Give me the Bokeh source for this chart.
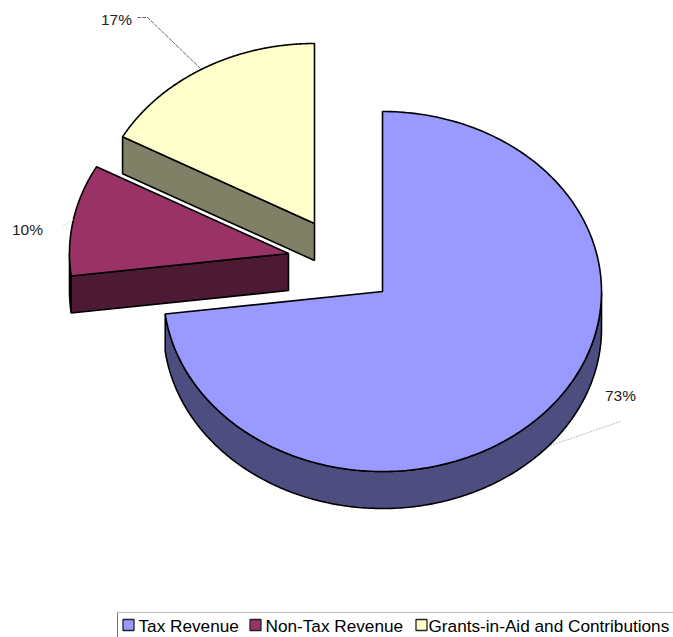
import numpy as np
from bokeh.plotting import figure
from bokeh.core.properties import value
from bokeh.embed import file_html
from bokeh.resources import INLINE

categories = ["Tax Revenue", "Non-Tax Revenue", "Grants-in-Aid and Contributions"]
shares = [73, 10, 17]
top_colors = ["#9999FF", "#993366", "#FFFFCC"]
side_colors = ["#4D4D80", "#4D1A33", "#808066"]
apex_x = [382, 288, 314]
apex_y = [291, 253, 223]
RX, RY, DEPTH = 219, 180, 37

W, H = 673, 637
p = figure(width=W, height=H, x_range=(0, W), y_range=(H, 0), output_backend="svg",
           toolbar_location=None, min_border=0, outline_line_color=None, background_fill_color="white")
p.xaxis.visible = False
p.yaxis.visible = False
p.grid.visible = False


def rim(cx, cy, a0, a1, n=240):
    t = np.radians(np.linspace(a0, a1, n))
    return cx + RX * np.sin(t), cy - RY * np.cos(t)


edges = np.cumsum([0] + shares) / sum(shares) * 360
for i in [2, 1, 0]:
    a0, a1 = edges[i], edges[i + 1]
    cx, cy = apex_x[i], apex_y[i]
    # extruded side: lower part of the rim (90..270 degrees) visible
    lo, hi = max(a0, 90), min(a1, 270)
    if hi > lo:
        x, y = rim(cx, cy, lo, hi)
        p.patch(np.r_[x, x[::-1]], np.r_[y, y[::-1] + DEPTH], fill_color=side_colors[i],
                line_color="black", line_width=1.6)
    # extruded cut face that looks towards the viewer
    if 180 < a1 <= 360 and a0 > 90:
        ex, ey = rim(cx, cy, a0, a0, 1)
        p.patch([cx, ex[0], ex[0], cx], [cy, ey[0], ey[0] + DEPTH, cy + DEPTH],
                fill_color=side_colors[i], line_color="black", line_width=1.6)
    x, y = rim(cx, cy, a0, a1)
    p.patch(np.r_[cx, x], np.r_[cy, y], fill_color=top_colors[i], line_color="black", line_width=1.6)

# data labels with leader lines
label_xy = [(620, 395), (27, 229), (116, 19)]
leaders = [([550, 620], [445, 421], "#aaaaaa", "2 1"),
           ([73, 62], [219, 226], "#dddddd", "solid"),
           ([200, 147, 137], [68, 17, 17], "#444444", "4 1")]
for share, (lx, ly), (xs, ys, c, d) in zip(shares, label_xy, leaders):
    p.line(xs, ys, line_color=c, line_width=0.8, line_dash=d)
    p.text([lx], [ly], text=[f"{share}%"], text_font=value("Liberation Sans"), text_font_size="15.5px",
           text_color="#222222", text_align="center", text_baseline="middle")

# legend
p.line([117, 673], [612, 612], line_color="#bbbbbb", line_width=1)
p.line([117, 117], [612, 637], line_color="#777777", line_width=1)
marker_x = [128, 255, 421]
text_x = [138, 265, 428]
for i, name in enumerate(categories):
    p.rect([marker_x[i]], [624.5], width=11, height=11, fill_color=top_colors[i], line_color="#222222", line_width=1.3)
    p.text([text_x[i]], [625.5], text=[name], text_font=value("Liberation Sans"), text_font_size="17.2px",
           text_color="black", text_align="left", text_baseline="middle")

open("out.html", "w").write(file_html(p, INLINE))
